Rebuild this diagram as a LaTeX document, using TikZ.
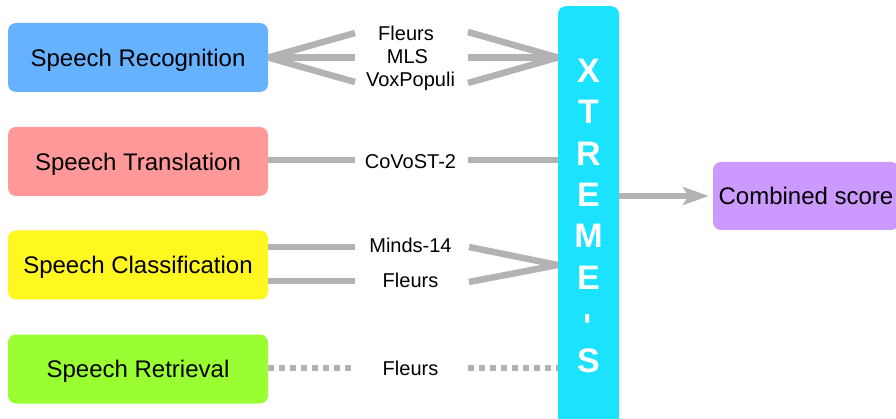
\documentclass[tikz,border=0pt]{standalone}
\usepackage{fontspec}
\setmainfont{Liberation Sans}
\usetikzlibrary{arrows.meta}
\definecolor{cRec}{HTML}{66B2FF}
\definecolor{cTra}{HTML}{FF9999}
\definecolor{cCla}{HTML}{FFF71F}
\definecolor{cRet}{HTML}{99FF33}
\definecolor{cXtr}{HTML}{1AE2FF}
\definecolor{cCom}{HTML}{CC99FF}
\definecolor{cLine}{HTML}{B3B3B3}
\begin{document}
\begin{tikzpicture}[x=1pt,y=-1pt,
  task/.style={rounded corners=8pt, minimum width=260pt, minimum height=69pt,
    inner sep=0pt, text height=17.2pt, text depth=0pt,
    font=\fontsize{24}{28}\selectfont, text=black},
  lbl/.style={font=\fontsize{20}{24}\selectfont, inner sep=0pt,
    text height=14.3pt, text depth=0pt},
  link/.style={draw=cLine, line width=6.5pt},
  dotlink/.style={link, dash pattern=on 6pt off 5pt}]
\useasboundingbox (0,0) rectangle (896,419);

% task boxes
\node[task, fill=cRec] (sr) at (138,57.5) {Speech Recognition};
\node[task, fill=cTra] (st) at (138,161.5) {Speech Translation};
\node[task, fill=cCla] (sc) at (138,265) {Speech Classification};
\node[task, fill=cRet] (sv) at (138,369) {Speech Retrieval};

% XTREME-S column
\node[fill=cXtr, rounded corners=8pt, minimum width=61pt, minimum height=419pt,
  inner sep=0pt, anchor=north, text=white, align=center,
  font=\bfseries\fontsize{34}{41.4}\selectfont] (x) at (588.5,6)
  {X\\T\\R\\E\\M\\E\\\hspace*{6pt}\raisebox{6pt}{\rotatebox{90}{-}}\\S};

% combined score
\node[task, fill=cCom, minimum width=186pt, minimum height=68pt] (cs) at (806,196) {Combined score};

% labels
\node[lbl] (l1) at (406,33) {Fleurs};
\node[lbl] (l2) at (407.5,56) {MLS};
\node[lbl] (l3) at (410.5,79.5) {VoxPopuli};
\node[lbl] (l4) at (410.5,161.5) {CoVoST-2};
\node[lbl] (l5) at (410.5,245.5) {Minds-14};
\node[lbl] (l6) at (410.5,280) {Fleurs};
\node[lbl] (l7) at (410.5,368) {Fleurs};

% connector end points
\coordinate (a1) at (355,33);
\coordinate (a2) at (355,57.5);
\coordinate (a3) at (355,82);
\coordinate (b1) at (468,32);
\coordinate (b2) at (468,57.5);
\coordinate (b3) at (468,83);
\coordinate (a4) at (355,160);
\coordinate (b4) at (468,160);
\coordinate (a5) at (355,247);
\coordinate (a6) at (355,281);
\coordinate (b5) at (469,247);
\coordinate (b6) at (469,282);
\coordinate (a7) at (355,368);
\coordinate (b7) at (468,368);

% recognition
\draw[link] (sr.east) -- (a1);
\draw[link] (sr.east) -- (a2);
\draw[link] (sr.east) -- (a3);
\draw[link] (b1) -- (x.west |- sr);
\draw[link] (b2) -- (x.west |- sr);
\draw[link] (b3) -- (x.west |- sr);
% translation
\draw[link] (st.east |- a4) -- (a4);
\draw[link] (b4) -- (x.west |- b4);
% classification
\draw[link] (sc.east |- a5) -- (a5);
\draw[link] (sc.east |- a6) -- (a6);
\draw[link] (b5) -- (x.west |- sc);
\draw[link] (b6) -- (x.west |- sc);
% retrieval
\draw[dotlink] (sv.east |- a7) -- (a7);
\draw[dotlink] (b7) -- (x.west |- b7);
% result
\draw[link, -{Stealth[length=26pt, width=18pt, inset=6pt]}, shorten >=4pt]
  (x.east |- cs) -- (cs.west);
\end{tikzpicture}
\end{document}
